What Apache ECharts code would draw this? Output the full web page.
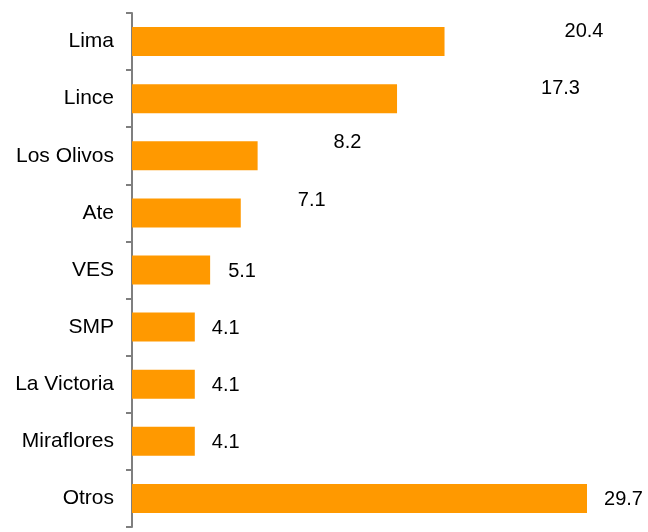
<!DOCTYPE html>
<html>
<head>
<meta charset="utf-8">
<script src="https://cdn.jsdelivr.net/npm/echarts@6/dist/echarts.min.js"></script>
<style>
  html, body { margin: 0; padding: 0; background: #fff; }
  #chart { width: 648px; height: 532px; }
</style>
</head>
<body>
<div id="chart"></div>
<script>
const districts = ['Lima', 'Lince', 'Los Olivos', 'Ate', 'VES', 'SMP', 'La Victoria', 'Miraflores', 'Otros'];
const shares = [20.4, 17.3, 8.2, 7.1, 5.1, 4.1, 4.1, 4.1, 29.7];

// the original has the top labels pushed away from their bars
const labelOffsets = [[103, -10], [127, -10], [59, -13], [40, -12], [1, 1], [0, 1], [0, 1], [0, 1], [0, 1]];

const chart = echarts.init(document.getElementById('chart'));
const font = 'Liberation Sans, Arial, sans-serif';

chart.setOption({
  animation: false,
  grid: { left: 132, top: 13, right: 56.4, bottom: 5 },
  xAxis: { type: 'value', min: 0, max: 30, show: false },
  yAxis: {
    type: 'category',
    inverse: true,
    data: districts,
    axisLine: { lineStyle: { color: '#7f7f7f', width: 2 } },
    axisTick: { show: true, alignWithLabel: false, length: 6, lineStyle: { color: '#7f7f7f', width: 2 } },
    axisLabel: { margin: 18, fontSize: 21, color: '#000', fontFamily: font }
  },
  series: [{
    type: 'bar',
    barWidth: 29,
    itemStyle: { color: '#FF9900' },
    label: {
      show: true,
      position: 'right',
      distance: 17,
      fontSize: 20,
      color: '#000',
      fontFamily: font,
      formatter: '{c}'
    },
    data: shares.map((v, i) => ({ value: v, label: { offset: labelOffsets[i] } }))
  }]
});
</script>
</body>
</html>
